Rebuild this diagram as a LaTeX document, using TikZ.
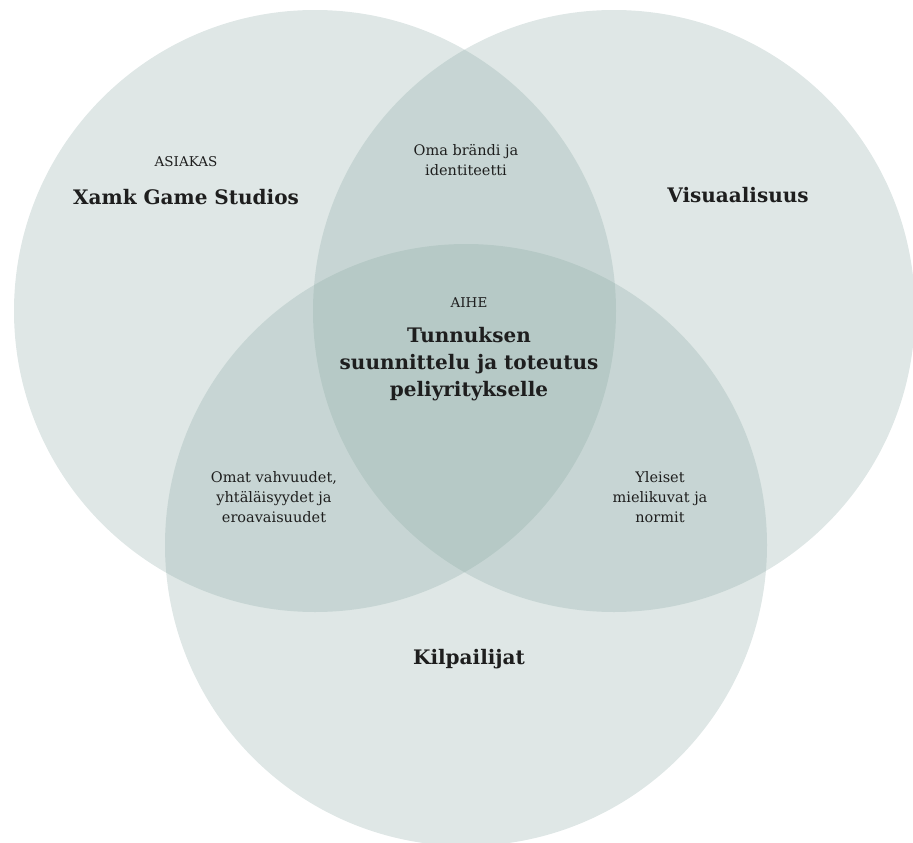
\documentclass[tikz,border=0pt]{standalone}
\usepackage{fontspec}
\setmainfont{DejaVu Serif}
\definecolor{venncol}{RGB}{135,166,162}
\definecolor{txt}{RGB}{30,30,30}
\tikzset{
  venn/.style={circle, minimum size=602pt, inner sep=0pt, fill=venncol, fill opacity=0.27, draw=none},
  small/.style={text=txt, align=center, font=\fontsize{14.5}{20}\selectfont},
  tiny/.style={text=txt, align=center, font=\fontsize{13.5}{15}\selectfont},
  big/.style={text=txt, align=center, font=\fontsize{20}{27}\selectfont\bfseries},
}
\begin{document}
\begin{tikzpicture}[x=1pt,y=-1pt]
\useasboundingbox (0,0) rectangle (913,843);
\clip (0,0) rectangle (913,843);
\node[venn] (L) at (315,311) {};
\node[venn] (R) at (614,311) {};
\node[venn] (B) at (466,545) {};
\node[tiny] (asiakas) at (186,162) {ASIAKAS};
\node[big] (xamk) at (186,197) {Xamk Game Studios};
\node[big] (visu) at (738,195) {Visuaalisuus};
\node[big] (kilp) at (469,659) {Kilpailijat};
\node[small] (brand) at (466,160.5) {Oma brändi ja\\identiteetti};
\node[tiny] (aihe) at (469,303) {AIHE};
\node[big] (topic) at (469,364.5) {Tunnuksen\\suunnittelu ja toteutus\\peliyritykselle};
\node[small] (omat) at (274,497.5) {Omat vahvuudet,\\yhtäläisyydet ja\\eroavaisuudet};
\node[small] (yleiset) at (660,497.5) {Yleiset\\mielikuvat ja\\normit};
\end{tikzpicture}
\end{document}
